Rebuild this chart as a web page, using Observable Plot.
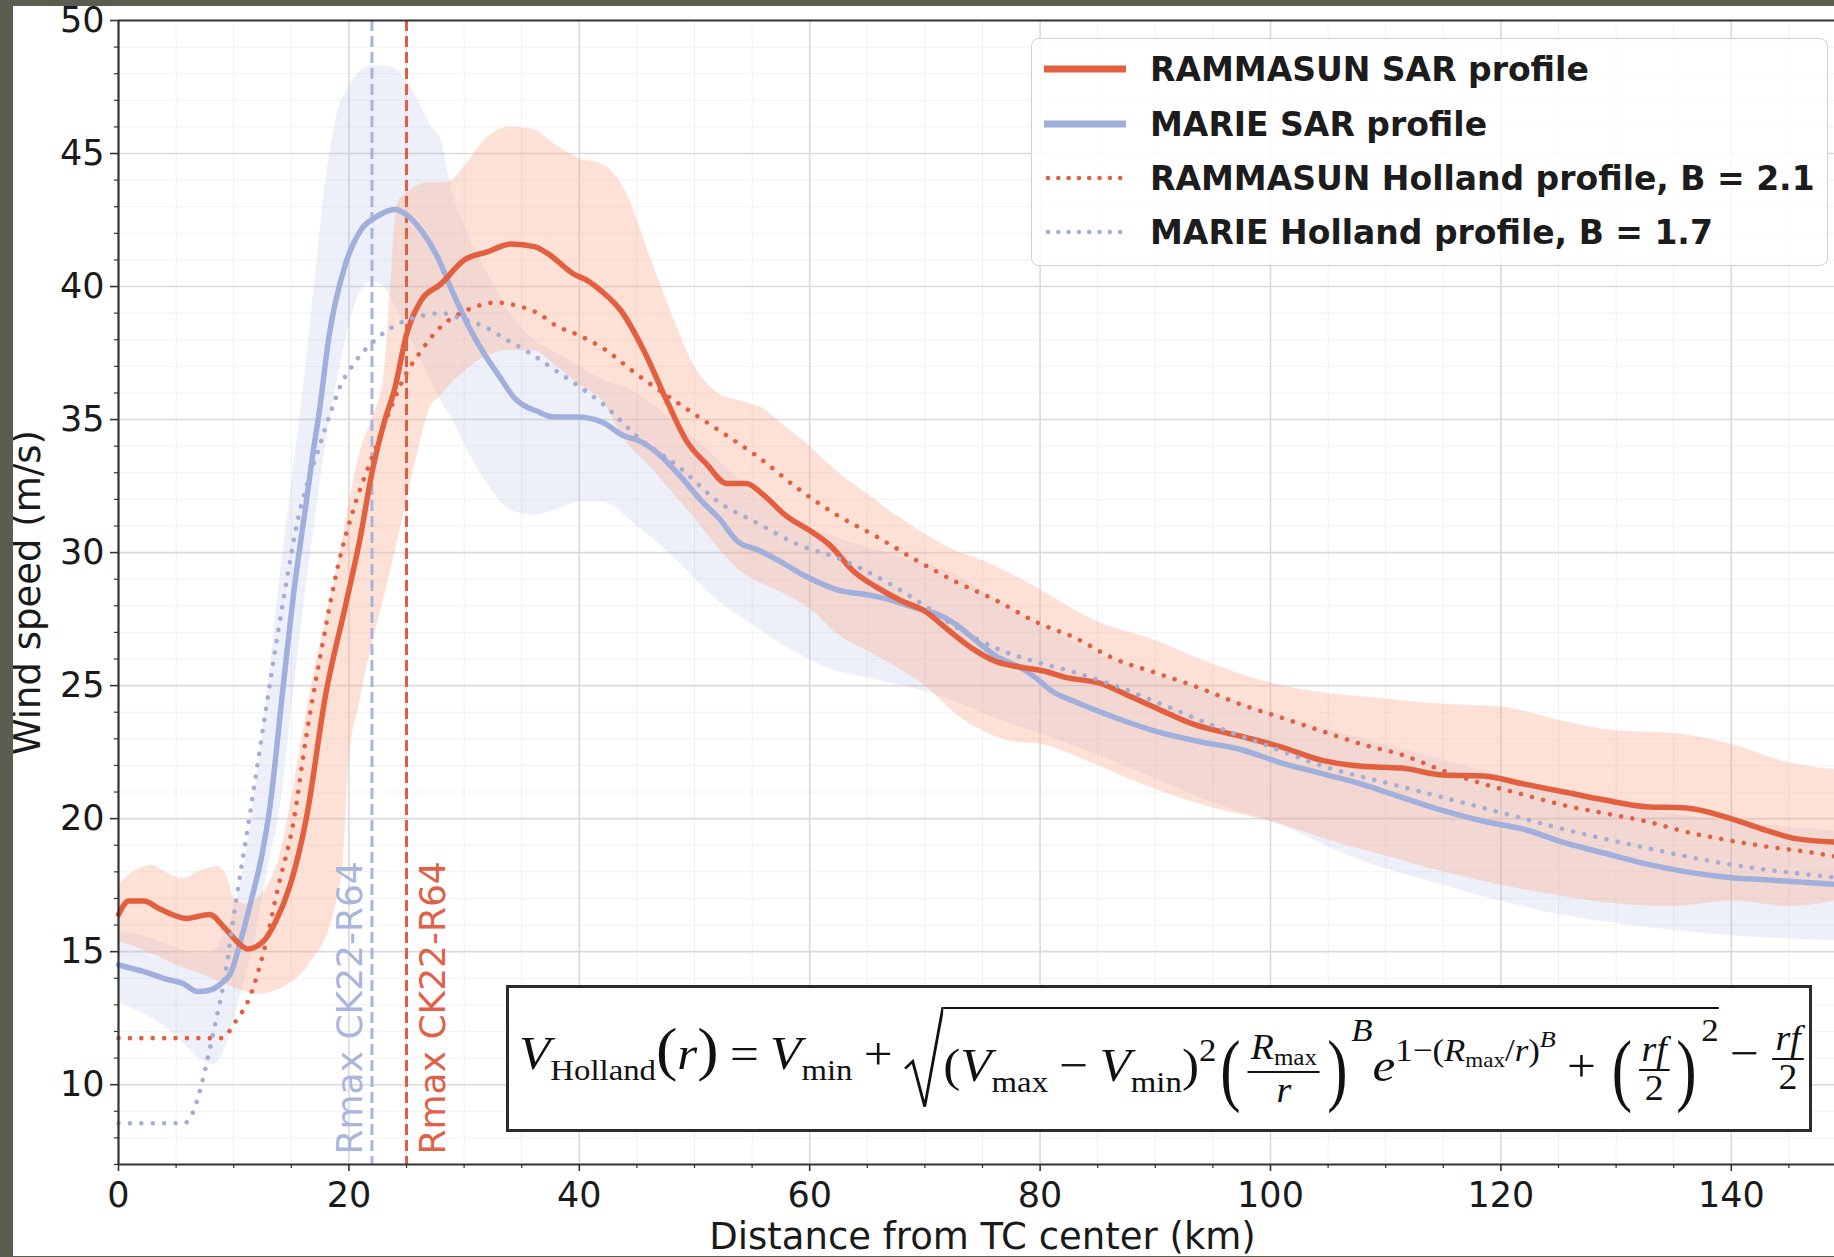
<!DOCTYPE html>
<html>
<head>
<meta charset="utf-8">
<script src="https://cdn.jsdelivr.net/npm/d3@7"></script>
<script src="https://cdn.jsdelivr.net/npm/@observablehq/plot@0.6"></script>
<style>
html,body{margin:0;padding:0;}
body{width:1834px;height:1257px;background:#5b5d51;position:relative;overflow:hidden;font-family:"DejaVu Sans",sans-serif;}
#paper{position:absolute;left:13px;top:6px;width:1821px;height:1250px;background:#fff;overflow:hidden;}
#chart{position:absolute;left:0;top:0;}
#legend{position:absolute;left:1018px;top:32px;width:795px;height:226px;border:1.5px solid #d0d0d0;border-radius:8px;background:rgba(255,255,255,0.82);}
.lrow{position:absolute;left:0;height:50px;display:flex;align-items:center;}
.lrow svg{position:absolute;left:11px;top:0;}
.lrow span{position:absolute;left:118px;top:50%;transform:translateY(-50%);white-space:nowrap;font-family:"DejaVu Sans",sans-serif;font-weight:bold;font-size:33px;color:#1c1c1c;}
#formula{position:absolute;left:493px;top:979px;width:1300px;height:141px;border:3.5px solid #2b2b2b;background:#fff;display:flex;align-items:center;overflow:hidden;}
#fx{font-family:"Liberation Serif","DejaVu Serif",serif;font-size:47px;white-space:nowrap;display:inline-block;transform-origin:0 50%;line-height:1;margin-left:10px;color:#111;}
.it{font-style:italic;}
.sb{font-size:0.64em;vertical-align:-0.36em;}
.sb2{font-size:0.66em;vertical-align:-0.28em;}
.sp{font-size:0.68em;vertical-align:0.62em;}
.sp2{font-size:0.75em;vertical-align:0.6em;}
.mp{font-size:1.25em;}
.rel,.bin{margin:0 0.22em;}
.bp{font-size:1.7em;vertical-align:middle;display:inline-block;transform:scaleX(0.7);}
.spb{font-size:0.68em;vertical-align:1.25em;}
.frac{display:inline-block;vertical-align:middle;text-align:center;font-size:0.74em;margin:0 0.06em;}
.frac>span{display:block;padding:0 0.08em;line-height:1.05;}
.frac .nu{border-bottom:2px solid #111;}
.sqrt{display:inline-flex;vertical-align:middle;align-items:stretch;}
.sqrt svg{width:36px;flex:none;}
.rc{display:inline-block;border-top:2.5px solid #111;padding-top:0.12em;}
</style>
</head>
<body>
<div id="paper">
  <div id="chart"></div>
  <div id="legend"></div>
  <div id="formula"><div id="fx"></div></div>
</div>
<script>
// ---------- data ----------
const xMajor = [0, 20, 40, 60, 80, 100, 120, 140];
const yMajor = [10, 15, 20, 25, 30, 35, 40, 45, 50];
const xMinor = d3.range(5, 150, 5).filter(v => v % 20 !== 0);
const yMinor = d3.range(7, 50, 1).filter(v => v % 5 !== 0);
const xDomain = [0, 150];
const yDomain = [7, 50];

const xLabel = "Distance from TC center (km)";
const yLabel = "Wind speed (m/s)";

const seriesNames = [
  "RAMMASUN SAR profile",
  "MARIE SAR profile",
  "RAMMASUN Holland profile, B = 2.1",
  "MARIE Holland profile, B = 1.7"
];

// RAMMASUN SAR mean profile [distance km, wind m/s]
const rammasunSAR = [[0,16.4],[0.9,16.9],[2.2,16.9],[3.6,16.6],[5.9,16.25],[7.9,16.4],[9.2,15.9],[10.6,15.25],[11.2,15.1],[12.6,15.4],[13.6,16.1],[14.9,17.5],[16.3,20.0],[18.0,24.7],[19.7,28.0],[21,30.6],[22,33.0],[23,34.8],[24,36.2],[25,38.2],[26.3,39.5],[28,40.1],[30,41.0],[32,41.3],[34.1,41.6],[36.1,41.5],[37.4,41.2],[39.4,40.5],[40.8,40.2],[42,39.8],[43.6,39.1],[45.6,37.6],[47.6,35.7],[49.3,34.2],[51.1,33.3],[52.8,32.6],[54.5,32.6],[55.9,32.2],[57.9,31.4],[60.3,30.75],[61.7,30.3],[63.8,29.3],[65.8,28.7],[67.9,28.2],[70,27.8],[72,27.1],[74.1,26.4],[76.2,25.9],[78.2,25.7],[80.3,25.55],[82.3,25.3],[85.1,25.1],[87.8,24.6],[90.6,24.05],[93.3,23.55],[97.4,23.1],[100.9,22.7],[104.4,22.2],[107.9,21.97],[111.4,21.9],[115,21.64],[118.5,21.6],[122,21.3],[125.5,21.0],[129,20.7],[132.6,20.45],[136.1,20.4],[139.6,20.05],[143.1,19.55],[145.6,19.25],[150,19.1]];

// MARIE SAR mean profile
const marieSAR = [[0,14.5],[2.2,14.25],[3.9,14.0],[5.6,13.8],[6.9,13.5],[7.9,13.55],[8.9,13.8],[9.8,14.25],[10.5,15.25],[11.5,16.9],[12.5,18.75],[13.1,20.3],[14.3,25],[15.3,28.8],[16.3,31.9],[16.9,33.8],[17.4,35.2],[18.3,38.2],[19.6,40.7],[21,42.1],[22.3,42.6],[24,42.9],[25,42.7],[26.3,42.1],[27.7,41.1],[29,39.8],[30.4,38.5],[31.7,37.5],[33.1,36.6],[34.4,35.8],[36.4,35.3],[37.8,35.1],[39.8,35.1],[42,34.9],[43.8,34.4],[45.2,34.2],[46.9,33.7],[48.7,32.9],[50.7,31.9],[52.1,31.3],[53.8,30.4],[55.5,30.1],[57.3,29.7],[59.7,29.1],[62.4,28.6],[65.2,28.4],[67.2,28.2],[69.3,27.9],[71,27.7],[72.7,27.3],[74.4,26.7],[76.2,26.1],[78.2,25.7],[79.6,25.3],[81,24.8],[83,24.4],[86.5,23.8],[89.9,23.3],[93.8,22.9],[97.4,22.6],[100.9,22.1],[104.4,21.7],[107.9,21.3],[111.4,20.8],[115,20.3],[118.5,19.9],[122,19.6],[125.5,19.1],[129,18.7],[132.6,18.3],[136.1,18.0],[139.6,17.8],[143.1,17.7],[146.6,17.6],[150,17.5]];

// RAMMASUN Holland profile, B = 2.1
const rammasunHolland = [[0,11.75],[9,11.75],[9.6,12.0],[10.2,12.4],[11.2,13.1],[12.6,15.0],[13.9,17.5],[15.2,19.9],[16.3,23.1],[17.6,26.3],[19,29.4],[20.6,31.9],[22.3,33.9],[23.7,35.5],[24.7,36.5],[26.3,37.6],[28,38.5],[29.7,39.0],[31.4,39.3],[32.7,39.4],[34.4,39.3],[36.4,39.0],[38.1,38.5],[39.8,38.2],[42,37.7],[45,36.7],[48.3,35.7],[52.1,34.6],[55.5,33.6],[59,32.4],[62.4,31.4],[65.8,30.6],[69.3,29.7],[72.7,28.9],[76.2,28.2],[79.6,27.4],[83,26.8],[86.5,26.0],[89.9,25.5],[93.3,25.0],[97.4,24.3],[100.9,23.8],[104.4,23.3],[107.9,22.8],[111.4,22.4],[115,21.8],[118.5,21.3],[122,20.9],[125.5,20.5],[129,20.2],[132.6,19.9],[136.1,19.5],[139.6,19.2],[143.1,18.95],[146.6,18.75],[150,18.5]];

// MARIE Holland profile, B = 1.7
const marieHolland = [[0,8.55],[5.7,8.55],[6.5,9.0],[7.2,10.0],[8.2,11.9],[9.2,14.0],[10.2,16.9],[11.2,19.6],[12.9,24.4],[14.3,28.2],[15.6,31.3],[17.3,33.8],[18.6,35.5],[19.2,36.2],[20.6,37.2],[22.3,38.0],[24.3,38.6],[26.3,38.9],[28,39.0],[29.7,38.8],[31.7,38.5],[33.7,38.0],[35.7,37.5],[38.1,36.8],[39.8,36.3],[42,35.6],[45.2,34.3],[48.7,33.2],[52.1,31.9],[55.5,31.1],[59,30.3],[62.4,29.8],[65.8,29.1],[69.3,28.2],[72.7,27.2],[76.2,26.4],[79.6,25.9],[83,25.5],[86.5,25.0],[90,24.4],[95,23.5],[100,22.7],[104.4,22.0],[111.4,21.2],[118.5,20.4],[125.5,19.6],[132.6,18.9],[139.6,18.3],[146.6,17.9],[150,17.75]];

// RAMMASUN spread band
const rammasunBandX  = [0,1,3,4,5.6,7,8.6,9.2,10.2,11,12,13,14,15,16,17,18,19,19.5,20,21,22,23,24.3,25,26,27,28,29,30,32,34,36,38,40,42,44,46,48,50,52,54,56,58,60,62.5,65,67.5,70,72.5,75,77.5,80,85,90,95,100,105,110,115,120,125,130,135,140,145,150];
const rammasunBandLo = [15.4,15.25,14.9,14.7,14.4,14.2,13.9,13.8,13.6,13.5,13.4,13.45,13.6,13.85,14.2,14.8,15.5,17.0,18.3,22.0,24.5,26.5,28.2,30.6,31.9,33.8,35.4,35.9,36.4,36.8,37.4,37.6,37.6,37.0,36.3,35.7,34.2,33.3,32.3,31.3,30.2,29.3,28.8,28.4,27.9,26.9,26.3,25.7,25.0,24.0,23.3,22.9,22.8,22.0,21.1,20.4,19.9,19.2,18.6,18.0,17.5,17.1,16.8,16.7,16.9,16.7,17.0];
const rammasunBandHi = [17.5,17.9,18.25,18.0,17.75,18.0,18.2,18.0,16.9,16.8,17.0,17.5,18.6,20.7,23.2,25.5,27.5,29.5,30.6,31.8,33.8,35.0,36.5,43.2,43.5,43.8,43.9,43.9,44.0,44.5,45.6,46.0,45.9,45.3,44.8,44.6,43.6,41.3,39.0,37.0,36.0,35.7,35.4,34.7,34.0,33.0,32.2,31.4,30.7,30.1,29.7,29.2,28.6,27.4,26.7,25.8,25.1,24.7,24.5,24.3,24.2,23.7,23.3,23.2,22.8,22.1,21.8];

// MARIE spread band
const marieBandX  = [0,2,4,6,7,8.2,9,10,11,12,13,14,15,16,17,18,19,20,21,22,23,24,25,26,27,28,29,30,32,34,36,38,40,42,45,48,52,55,59,62,65,68,72,76,80,85,90,95,100,108,115,120,125,133,140,150];
const marieBandLo = [13.1,12.7,12.2,11.4,11.0,10.75,11.1,12.4,14.0,15.8,18.2,20.3,24.0,27.7,31.0,34.1,36.5,38.5,39.8,40.2,40.0,39.3,38.4,37.5,36.6,35.7,35.0,34.1,32.6,31.6,31.4,31.6,31.9,31.9,31.0,29.9,28.2,27.3,26.2,25.6,25.3,25.0,24.5,23.8,23.2,22.4,21.5,20.6,19.9,18.4,17.5,16.9,16.4,15.9,15.6,15.4];
const marieBandHi = [15.8,15.6,15.3,15.0,14.9,15.0,15.5,16.5,18.5,21.5,25.0,29.0,32.5,36.0,40.0,44.0,46.5,47.5,48.1,48.3,48.3,48.2,47.7,47.0,46.1,45.5,43.5,42.3,40.5,39.0,38.0,37.5,37.0,36.5,36.0,35.0,33.5,32.3,31.2,30.6,30.2,29.8,29.3,28.3,27.3,26.2,25.4,24.7,24.0,23.0,22.2,21.6,21.0,20.3,19.9,19.5];

// Rmax (CK22-R64)
const rmaxStorms = ["MARIE", "RAMMASUN"];
const rmaxValues = [22, 25];
const rmaxLabel = "Rmax CK22-R64";

// ---------- styling ----------
const RED = "#e2603f", BLUE = "#a1afdc", BLUE_DOT = "#a3aed6";
const RED_FILL = "#f9a88a", BLUE_FILL = "#a8b4e0";
const RED_DASH = "#df5f44", BLUE_DASH = "#a7b4de";
const DOTS = {strokeWidth: 4.6, strokeDasharray: "0.01,11.4", strokeLinecap: "round"};

const pts = a => a.map(([x, y]) => ({x, y}));
const band = (xs, lo, hi) => xs.map((x, i) => ({x, lo: lo[i], hi: hi[i]}));
const rmax = rmaxStorms.map((s, i) => ({storm: s, r: rmaxValues[i]}));

const chart = Plot.plot({
  width: 1821, height: 1250,
  marginLeft: 105, marginRight: 0, marginTop: 14, marginBottom: 92,
  x: {domain: xDomain, range: [105, 1833]},
  y: {domain: yDomain, range: [1158, 14]},
  style: {background: "transparent", fontFamily: "DejaVu Sans", fontSize: "35px", color: "#1a1a1a", overflow: "visible"},
  marks: [
    Plot.gridX(xMinor, {stroke: "#efefef", strokeOpacity: 1, strokeWidth: 1}),
    Plot.gridY(yMinor, {stroke: "#f2f2f2", strokeOpacity: 1, strokeWidth: 1}),
    Plot.gridX(xMajor.slice(1), {stroke: "#dadada", strokeOpacity: 1, strokeWidth: 1.6}),
    Plot.gridY(yMajor.slice(0, -1), {stroke: "#dadada", strokeOpacity: 1, strokeWidth: 1.6}),
    Plot.areaY(band(marieBandX, marieBandLo, marieBandHi), {x: "x", y1: "lo", y2: "hi", fill: BLUE_FILL, fillOpacity: 0.2, curve: "monotone-x"}),
    Plot.areaY(band(rammasunBandX, rammasunBandLo, rammasunBandHi), {x: "x", y1: "lo", y2: "hi", fill: RED_FILL, fillOpacity: 0.35, curve: "monotone-x"}),
    Plot.ruleX(rmax.filter(d => d.storm === "MARIE"), {x: "r", stroke: BLUE_DASH, strokeWidth: 3, strokeDasharray: "11,5"}),
    Plot.ruleX(rmax.filter(d => d.storm === "RAMMASUN"), {x: "r", stroke: RED_DASH, strokeWidth: 3, strokeDasharray: "11,5"}),
    Plot.text(rmax.filter(d => d.storm === "MARIE"), {x: "r", frameAnchor: "bottom", text: () => rmaxLabel, rotate: -90, textAnchor: "start", lineAnchor: "middle", fill: "#aab5dc", fontSize: 36, dx: -21, dy: -10}),
    Plot.text(rmax.filter(d => d.storm === "RAMMASUN"), {x: "r", frameAnchor: "bottom", text: () => rmaxLabel, rotate: -90, textAnchor: "start", lineAnchor: "middle", fill: "#e06048", fontSize: 36, dx: 27, dy: -10}),
    Plot.line(pts(marieSAR), {x: "x", y: "y", stroke: BLUE, strokeWidth: 5.5, curve: "monotone-x"}),
    Plot.line(pts(rammasunSAR), {x: "x", y: "y", stroke: RED, strokeWidth: 5.5, curve: "monotone-x"}),
    Plot.line(pts(rammasunHolland), {x: "x", y: "y", stroke: RED, ...DOTS, curve: "monotone-x"}),
    Plot.line(pts(marieHolland), {x: "x", y: "y", stroke: BLUE_DOT, ...DOTS, curve: "monotone-x"}),
    Plot.ruleY([yDomain[1]], {stroke: "#333", strokeWidth: 2.2}),
    Plot.ruleY([yDomain[0]], {stroke: "#333", strokeWidth: 2.2}),
    Plot.ruleX([xDomain[0]], {stroke: "#333", strokeWidth: 2.2}),
    Plot.axisY(yMajor, {tickSize: 8, tickPadding: 6, label: null, stroke: "#333", strokeWidth: 1.6}),
    Plot.axisY(yMinor, {tickSize: 4, tickFormat: () => "", label: null, stroke: "#333", strokeWidth: 1.2}),
    Plot.axisX(xMajor, {tickSize: 7, tickPadding: 11, label: null, stroke: "#333", strokeWidth: 1.6}),
    Plot.axisX(xMinor, {tickSize: 4, tickFormat: () => "", label: null, stroke: "#333", strokeWidth: 1.2}),
    Plot.text([xLabel], {text: d => d, frameAnchor: "bottom", lineAnchor: "middle", textAnchor: "middle", dy: 73, dx: 6, fontSize: 37, fill: "#1a1a1a"}),
    Plot.text([yLabel], {text: d => d, frameAnchor: "left", rotate: -90, textAnchor: "middle", lineAnchor: "middle", dx: -90, fontSize: 37, fill: "#1a1a1a"})
  ]
});
document.getElementById("chart").appendChild(chart);

// ---------- legend ----------
const legendStyles = [
  {stroke: RED, width: 7, dash: null},
  {stroke: BLUE, width: 7, dash: null},
  {stroke: RED, width: 4.6, dash: "0.01,10.3"},
  {stroke: BLUE_DOT, width: 4.6, dash: "0.01,10.3"}
];
const rowCenters = [30, 85, 139, 193];
const legend = document.getElementById("legend");
seriesNames.forEach((name, i) => {
  const row = document.createElement("div");
  row.className = "lrow";
  row.style.top = (rowCenters[i] - 25) + "px";
  row.style.width = "790px";
  const s = legendStyles[i];
  const dashAttr = s.dash ? `stroke-dasharray="${s.dash}" stroke-linecap="round"` : "";
  const x1 = s.dash ? 5 : 1, x2 = s.dash ? 80 : 83;
  row.innerHTML = `<svg width="84" height="50"><line x1="${x1}" x2="${x2}" y1="25" y2="25" stroke="${s.stroke}" stroke-width="${s.width}" ${dashAttr}/></svg><span>${name}</span>`;
  legend.appendChild(row);
});

// ---------- formula ----------
const formulaHTML = `
<span class="it">V</span><span class="sb">Holland</span>
<span class="mp">(</span><span class="it">r</span><span class="mp">)</span>
<span class="rel">=</span>
<span class="it">V</span><span class="sb">min</span>
<span class="bin">+</span>
<span class="sqrt"><svg viewBox="0 0 36 100" preserveAspectRatio="none"><polyline points="1,60 8,53 19,97 35.5,1.3 36,1.3" fill="none" stroke="#111" stroke-width="2.6" vector-effect="non-scaling-stroke"/></svg><span class="rc">
<span>(</span><span class="it">V</span><span class="sb">max</span><span class="bin">&#8722;</span><span class="it">V</span><span class="sb">min</span><span>)</span><span class="sp">2</span>
<span class="bp">(</span><span class="frac"><span class="nu"><span class="it">R</span><span class="sb2">max</span></span><span class="de"><span class="it">r</span></span></span><span class="bp">)</span><span class="spb it">B</span>
<span class="it">e</span><span class="sp">1&#8722;(<span class="it">R</span><span class="sb2">max</span>/<span class="it">r</span>)<span class="sp2 it">B</span></span>
<span class="bin">+</span>
<span class="bp">(</span><span class="frac"><span class="nu"><span class="it">rf</span></span><span class="de">2</span></span><span class="bp">)</span><span class="spb">2</span>
</span></span>
<span class="bin">&#8722;</span>
<span class="frac"><span class="nu"><span class="it">rf</span></span><span class="de">2</span></span>`.replace(/>\s+</g, "><").trim();
const fx = document.getElementById("fx");
fx.innerHTML = formulaHTML;
const fw = fx.getBoundingClientRect().width;
fx.style.transform = `scaleX(${1287 / fw})`;
</script>
</body>
</html>
